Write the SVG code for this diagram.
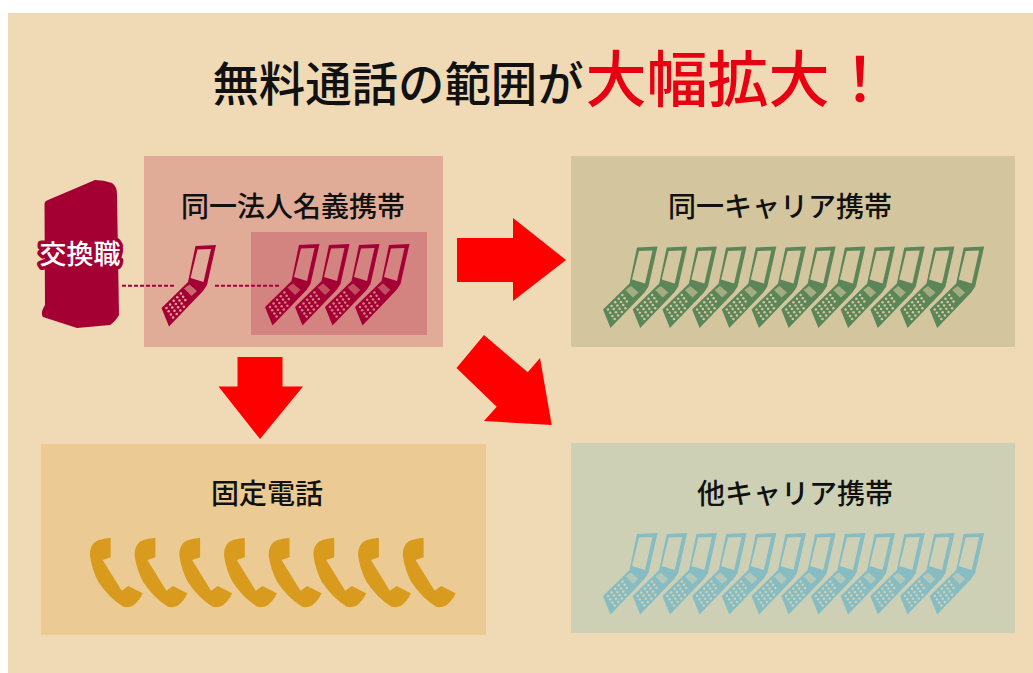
<svg xmlns="http://www.w3.org/2000/svg" width="1033" height="673" viewBox="0 0 1033 673">
<style>
text{font-family:"Noto Sans CJK JP","Noto Sans",sans-serif;text-anchor:middle;fill:#111}
.lab{font-size:28px;font-weight:500}
.arrow{fill:#ff0000}
.dash{stroke:#a8003a;stroke-width:2;stroke-dasharray:4 2;fill:none}
.red{color:#a50034}
.grn{color:#5c8559}
.blu{color:#87bcc2}
.soft{filter:url(#soft)}
</style>
<defs>
<filter id="soft" x="-5%" y="-5%" width="110%" height="110%"><feGaussianBlur stdDeviation="0.4"/></filter>
<g id="ph">
<path fill="currentColor" d="M195.500 246L216 245L207 285L203 291L169 326.500L161.500 308L188 282Z"/>
<path fill="inherit" d="M197.500 249.500L211 249L203.500 282L190.500 278Z"/>
<path fill="inherit" d="M184 288.500L189.500 284.500L197 291L191.500 296Z" opacity=".6"/>
<g fill="inherit">
<circle cx="166.500" cy="308" r="1.250"/><circle cx="170.100" cy="304.400" r="1.250"/><circle cx="173.700" cy="300.800" r="1.250"/><circle cx="177.300" cy="297.200" r="1.250"/><circle cx="180.900" cy="293.600" r="1.250"/>
<circle cx="168.700" cy="311.200" r="1.250"/><circle cx="172.300" cy="307.600" r="1.250"/><circle cx="175.900" cy="304" r="1.250"/><circle cx="179.500" cy="300.400" r="1.250"/><circle cx="183.100" cy="296.800" r="1.250"/>
<circle cx="170.900" cy="314.400" r="1.250"/><circle cx="174.500" cy="310.800" r="1.250"/><circle cx="178.100" cy="307.200" r="1.250"/><circle cx="181.700" cy="303.600" r="1.250"/><circle cx="185.300" cy="300" r="1.250"/>
<circle cx="173.100" cy="317.600" r="1.250"/><circle cx="176.700" cy="314" r="1.250"/><circle cx="180.300" cy="310.400" r="1.250"/><circle cx="183.900" cy="306.800" r="1.250"/>
</g>
</g>
<path id="hs" d="M110.700 537.700Q96 539 93 544Q89.500 549 90 556Q92 570 98.300 581.700Q109 598 123.300 606.700Q128 608 133.300 605.500Q140 600 142.700 593.300L128.300 586L121.700 590.700L102.700 560L110.700 557.300Z"/>
</defs>
<rect width="1033" height="673" fill="#fff"/>
<rect x="8" y="13" width="1025" height="660" fill="#f0d9b5"/>
<g id="title"><text x="398" y="101" font-size="46.400" font-weight="500">無料通話の範囲が</text><text x="738" y="102" font-size="61" font-weight="500" style="fill:#e60012">大幅拡大！</text></g>
<g id="node-switch">
<path fill="#a50034" d="M95 180Q104 180 112 183Q117 186 117 195L119 315Q115 322 110 325L77 328L43 317Q40 313 45 305L44.500 204Q44.500 201 48 200Z"/>
<text x="80" y="264" font-size="27" font-weight="500" style="fill:#fff;stroke:#a50034;stroke-width:7;paint-order:stroke;stroke-linejoin:round">交換職</text>
</g>
<g id="node-same-corp">
<rect x="144" y="156" width="299" height="191" fill="#e0ac98"/>
<rect x="251" y="232" width="176" height="103" fill="#d38380"/>
<text class="lab" x="293" y="217">同一法人名義携帯</text>
<g class="red soft">
<use href="#ph" fill="#e0ac98"/>
<g fill="#d38380">
<use href="#ph" x="103.500" y="-1"/><use href="#ph" x="133.500" y="-1"/><use href="#ph" x="163.500" y="-1"/><use href="#ph" x="193.500" y="-1"/>
</g></g>
</g>
<g id="node-same-carrier">
<rect x="571" y="156" width="444" height="191" fill="#d3c69e"/>
<text class="lab" x="780" y="217">同一キャリア携帯</text>
<g class="grn soft" fill="#d3c69e">
<use href="#ph" x="441.500" y="1.500"/><use href="#ph" x="471.200" y="1.500"/><use href="#ph" x="500.900" y="1.500"/><use href="#ph" x="530.600" y="1.500"/><use href="#ph" x="560.300" y="1.500"/><use href="#ph" x="590" y="1.500"/><use href="#ph" x="619.700" y="1.500"/><use href="#ph" x="649.400" y="1.500"/><use href="#ph" x="679.100" y="1.500"/><use href="#ph" x="708.800" y="1.500"/><use href="#ph" x="738.500" y="1.500"/><use href="#ph" x="768.200" y="1.500"/>
</g>
</g>
<g id="node-landline">
<rect x="41" y="444" width="445" height="191" fill="#ebcb93"/>
<text class="lab" x="267" y="504">固定電話</text>
<g fill="#d89b1d">
<use href="#hs"/><use href="#hs" x="44.700"/><use href="#hs" x="89.400"/><use href="#hs" x="134.100"/><use href="#hs" x="178.800"/><use href="#hs" x="223.500"/><use href="#hs" x="268.200"/><use href="#hs" x="312.900"/>
</g>
</g>
<g id="node-other-carrier">
<rect x="571" y="443" width="444" height="190" fill="#ced0b5"/>
<text class="lab" x="795" y="504">他キャリア携帯</text>
<g class="blu soft" fill="#ced0b5">
<use href="#ph" x="441.500" y="288"/><use href="#ph" x="471.200" y="288"/><use href="#ph" x="500.900" y="288"/><use href="#ph" x="530.600" y="288"/><use href="#ph" x="560.300" y="288"/><use href="#ph" x="590" y="288"/><use href="#ph" x="619.700" y="288"/><use href="#ph" x="649.400" y="288"/><use href="#ph" x="679.100" y="288"/><use href="#ph" x="708.800" y="288"/><use href="#ph" x="738.500" y="288"/><use href="#ph" x="768.200" y="288"/>
</g>
</g>
<g id="connectors">
<path class="dash" d="M122 285.700H174M215 285.700H279"/>
<path class="arrow" d="M457 238H513V218L566 260L513 301V282H457Z"/>
<path class="arrow" d="M237.500 357H282.500V386.500H303L260 439L218.500 386.500H237.500Z"/>
<path class="arrow" d="M484 335L456.500 368L496.700 406.700L484 421L551.700 425L540 358L527.700 372.300Z"/>
</g>
</svg>
